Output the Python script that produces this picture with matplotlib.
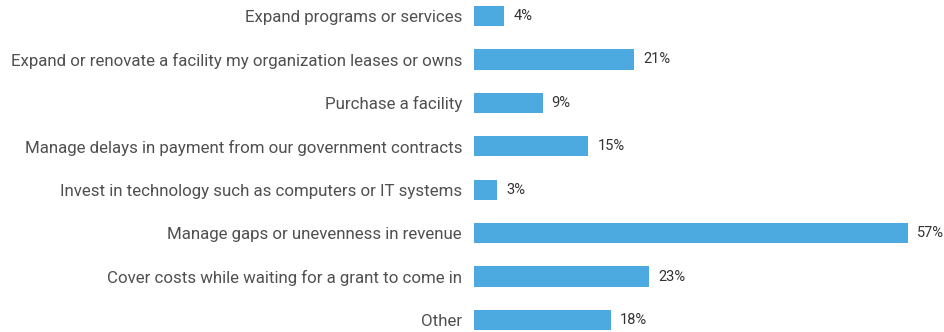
import matplotlib
matplotlib.use("Agg")
import matplotlib.pyplot as plt

categories = [
    "Expand programs or services",
    "Expand or renovate a facility my organization leases or owns",
    "Purchase a facility",
    "Manage delays in payment from our government contracts",
    "Invest in technology such as computers or IT systems",
    "Manage gaps or unevenness in revenue",
    "Cover costs while waiting for a grant to come in",
    "Other",
]
values = [4, 21, 9, 15, 3, 57, 23, 18]

plt.rcParams["font.family"] = ["Roboto", "DejaVu Sans"]

W, H = 944, 332
fig = plt.figure(figsize=(W / 100, H / 100), dpi=100)
x0, x1 = 474, 940
ax = fig.add_axes([x0 / W, 0, (x1 - x0) / W, 1])

px_per_unit = 434 / 57
ax.set_xlim(0, (x1 - x0) / px_per_unit)
step = 304 / 7
ax.set_ylim(7 + 12 / step, -16 / step)

bar_color = "#4DAAE0"
y = list(range(len(categories)))
ax.barh(y, values, height=0.47, color=bar_color)

# percentage label just past the end of each bar
for yi, v in zip(y, values):
    ax.text(v + 1.2, yi, f"{v}%", va="center", ha="left",
            fontsize=10.5, color="#333333")

ax.set_yticks(y)
ax.set_yticklabels(categories, fontsize=12.2, color="#505050")
ax.tick_params(axis="y", length=0, pad=8.6)
ax.set_xticks([])
for s in ax.spines.values():
    s.set_visible(False)

fig.savefig("out.png", dpi=100, facecolor="white")
